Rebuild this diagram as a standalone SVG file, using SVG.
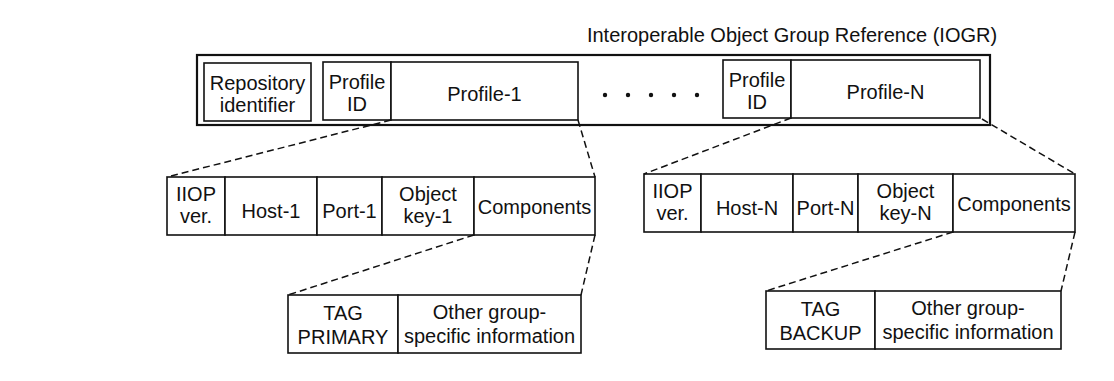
<svg xmlns="http://www.w3.org/2000/svg" width="1114" height="381" viewBox="0 0 1114 381">
<style>
.b{fill:#fff;stroke:#111;stroke-width:1.6}
.o{fill:none;stroke:#111;stroke-width:2.2}
.d{fill:none;stroke:#111;stroke-width:1.5;stroke-dasharray:7 4}
text{font-family:"Liberation Sans",Arial,sans-serif;font-size:20px;fill:#111;text-anchor:middle}
.t{font-size:20px}
</style>
<rect width="1114" height="381" fill="#fff"/>
<text class="t" x="792" y="42">Interoperable Object Group Reference (IOGR)</text>
<g id="iogr">
<rect class="o" x="197" y="55" width="793" height="70"/>
</g>
<g id="repository-identifier">
<rect class="b" x="204" y="63" width="107" height="58"/>
<text x="257.5" y="90">Repository</text>
<text x="257.5" y="112">identifier</text>
</g>
<g id="profile-id-1">
<rect class="b" x="323" y="62" width="68" height="58"/>
<text x="357" y="89">Profile</text>
<text x="357" y="111">ID</text>
</g>
<g id="profile-1">
<rect class="b" x="391" y="62" width="187" height="58"/>
<text x="484.5" y="101">Profile-1</text>
</g>
<g id="ellipsis">
<circle cx="605" cy="95" r="2.2" fill="#111"/>
<circle cx="628" cy="95" r="2.2" fill="#111"/>
<circle cx="651" cy="95" r="2.2" fill="#111"/>
<circle cx="674" cy="95" r="2.2" fill="#111"/>
<circle cx="697" cy="95" r="2.2" fill="#111"/>
</g>
<g id="profile-id-n">
<rect class="b" x="723" y="60" width="68" height="58"/>
<text x="757" y="87">Profile</text>
<text x="757" y="109">ID</text>
</g>
<g id="profile-n">
<rect class="b" x="791" y="60" width="189" height="58"/>
<text x="885.5" y="99">Profile-N</text>
</g>

<g id="iiop-ver-1"><rect class="b" x="167" y="177" width="58" height="58"/><text x="196" y="201">IIOP</text><text x="196" y="223">ver.</text></g>
<g id="host-1"><rect class="b" x="225" y="177" width="92" height="58"/><text x="271" y="218">Host-1</text></g>
<g id="port-1"><rect class="b" x="317" y="177" width="65" height="58"/><text x="349.5" y="218">Port-1</text></g>
<g id="object-key-1"><rect class="b" x="382" y="177" width="92" height="58"/><text x="428" y="201">Object</text><text x="428" y="223">key-1</text></g>
<g id="components-1"><rect class="b" x="474" y="177" width="121" height="58"/><text x="534.5" y="214">Components</text></g>

<g id="iiop-ver-n"><rect class="b" x="644" y="174" width="57" height="58"/><text x="672.5" y="198">IIOP</text><text x="672.5" y="220">ver.</text></g>
<g id="host-n"><rect class="b" x="701" y="174" width="92" height="58"/><text x="747" y="215">Host-N</text></g>
<g id="port-n"><rect class="b" x="793" y="174" width="65" height="58"/><text x="825.5" y="215">Port-N</text></g>
<g id="object-key-n"><rect class="b" x="858" y="174" width="95" height="58"/><text x="905.5" y="198">Object</text><text x="905.5" y="220">key-N</text></g>
<g id="components-n"><rect class="b" x="953" y="174" width="122" height="58"/><text x="1014" y="211">Components</text></g>

<g id="tag-primary"><rect class="b" x="288" y="295" width="110" height="58"/><text x="343" y="320">TAG</text><text x="343" y="344">PRIMARY</text></g>
<g id="other-info-1"><rect class="b" x="398" y="295" width="183" height="58"/><text x="489.5" y="319">Other group-</text><text x="489.5" y="343">specific information</text></g>

<g id="tag-backup"><rect class="b" x="766" y="291" width="109" height="58"/><text x="820.5" y="316">TAG</text><text x="820.5" y="340">BACKUP</text></g>
<g id="other-info-n"><rect class="b" x="875" y="291" width="186" height="58"/><text x="968" y="315">Other group-</text><text x="968" y="339">specific information</text></g>

<g id="connectors">
<line class="d" x1="391" y1="120" x2="167" y2="177"/>
<line class="d" x1="578" y1="120" x2="595" y2="177"/>
<line class="d" x1="474" y1="235" x2="288" y2="295"/>
<line class="d" x1="595" y1="235" x2="581" y2="295"/>
<line class="d" x1="791" y1="118" x2="644" y2="174"/>
<line class="d" x1="982" y1="119" x2="1075" y2="174"/>
<line class="d" x1="953" y1="232" x2="766" y2="291"/>
<line class="d" x1="1075" y1="232" x2="1061" y2="291"/>
</g>
</svg>
